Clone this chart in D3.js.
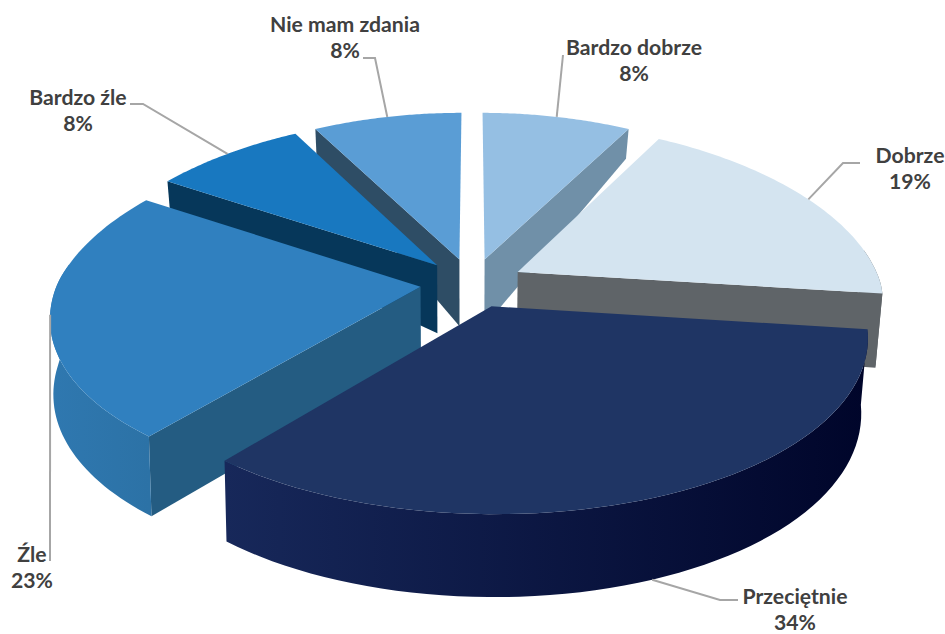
<!DOCTYPE html>
<html>
<head>
<meta charset="utf-8">
<script src="https://cdn.jsdelivr.net/npm/d3@7"></script>
<style>
  html, body { margin: 0; background: #fff; }
  text { font-family: Lato, "Open Sans", sans-serif; font-weight: 700; font-size: 21.2px; fill: #404040; }
</style>
</head>
<body>
<script>
// Chart values, clockwise from twelve o'clock
const categories = ["Bardzo dobrze", "Dobrze", "Przeciętnie", "Źle", "Bardzo źle", "Nie mam zdania"];
const shares = [8, 19, 34, 23, 8, 8];

// Slice colours
const topColours = ["#95bfe3", "#d4e4f0", "#1f3564", "#3080bf", "#1878c0", "#5a9dd5"];
const wallColours = ["#7090a8", "#5f6468", "#14264f", "#245c82", "#06375a", "#2e4d65"];
const rimLeft = ["#7090a8", "#5f6468", "#17285a", "#2f78b0", "#06375a", "#2e4d65"];
const rimRight = ["#7090a8", "#5f6468", "#00052a", "#2c72a6", "#06375a", "#2e4d65"];

// Back slices get painted first
const paintOrder = [5, 0, 1, 4, 3, 2];

// Label centre and elbow of the leader line
const labelLayout = [
  { x: 634, y: 55, elbow: [[563, 55]] },
  { x: 910, y: 163, elbow: [[860, 163], [843, 163]] },
  { x: 795, y: 604, elbow: [[738, 600], [720, 600]], onBase: true },
  { x: 32, y: 562, elbow: [[50, 561]] },
  { x: 78, y: 105, elbow: [[130, 104], [143, 104]] },
  { x: 345, y: 32, elbow: [[363, 58], [375, 58]] },
];

const width = 945, height = 634;
const cx = 472, cy = 283, rx = 363, ry = 172.6;
const explode = 0.143, perspective = 0.136;

const svg = d3.select("body").append("svg")
  .attr("width", width)
  .attr("height", height)
  .style("display", "block");
const defs = svg.append("defs");

// Wall height grows strongly toward the viewer
const wallHeight = d3.scaleLinear()
  .domain([120, 180, 257, 290, 515])
  .range([30, 28, 66, 74, 83])
  .clamp(true);

// The far side of the pie narrows a bit more than it flattens
const narrowing = d3.scaleLinear().domain([-1, 0, 1]).range([1.025, 1, 0.95]);

const slices = d3.pie().sort(null).value((d) => d)(shares);

// Flat pie coordinates to the picture
const project = (X, Z) => {
  const s = 1 / (1 + perspective * Z);
  return [cx + rx * X * s * narrowing(Z), cy - ry * Z * s];
};
const base = ([x, y]) => [cx + (x - cx) * (x < cx ? 0.992 : 0.983), y + wallHeight(y)];

const rimPoint = (slice, angle) => {
  const mid = (slice.startAngle + slice.endAngle) / 2;
  return project(
    Math.sin(angle) + explode * Math.sin(mid),
    Math.cos(angle) + explode * Math.cos(mid)
  );
};
const apexPoint = (slice) => {
  const mid = (slice.startAngle + slice.endAngle) / 2;
  return project(explode * Math.sin(mid), explode * Math.cos(mid));
};

const line = d3.line();
const closed = (pts) => line(pts) + "Z";

paintOrder.forEach((i) => {
  const slice = slices[i];
  const g = svg.append("g");
  const angles = d3.range(0, 61).map((k) => slice.startAngle + ((slice.endAngle - slice.startAngle) * k) / 60);
  const rim = angles.map((a) => rimPoint(slice, a));
  const apex = apexPoint(slice);
  const first = rim[0], last = rim[rim.length - 1];

  // Radial walls, only the ones that face the viewer
  const walls = [];
  if (slice.endAngle < Math.PI) walls.push(last);
  if (slice.startAngle > Math.PI) walls.push(first);
  walls.forEach((p) => {
    g.append("path")
      .attr("d", closed([p, apex, base(apex), base(p)]))
      .attr("fill", wallColours[i]);
  });

  // Outer wall, front part of the rim only
  const frontRim = rim.filter((p, k) => Math.cos(angles[k]) < 0.15);
  if (frontRim.length > 1) {
    const gradId = "rim" + i;
    const xs = d3.extent(frontRim, (p) => p[0]);
    const grad = defs.append("linearGradient")
      .attr("id", gradId)
      .attr("gradientUnits", "userSpaceOnUse")
      .attr("x1", xs[0]).attr("x2", xs[1])
      .attr("y1", 0).attr("y2", 0);
    grad.append("stop").attr("offset", 0).attr("stop-color", rimLeft[i]);
    grad.append("stop").attr("offset", 1).attr("stop-color", rimRight[i]);
    g.append("path")
      .attr("d", closed(frontRim.concat(frontRim.map(base).reverse())))
      .attr("fill", `url(#${gradId})`);
  }

  // Top face
  g.append("path")
    .attr("d", closed([apex].concat(rim)))
    .attr("fill", topColours[i]);
});

// Leader lines and labels
slices.forEach((slice, i) => {
  const layout = labelLayout[i];
  const mid = (slice.startAngle + slice.endAngle) / 2;
  const rimEnd = rimPoint(slice, mid);
  const end = layout.onBase ? base(rimEnd) : rimEnd;
  svg.append("path")
    .attr("d", line(layout.elbow.concat([end])))
    .attr("fill", "none")
    .attr("stroke", "#a6a6a6")
    .attr("stroke-width", 2);

  const label = svg.append("text").attr("text-anchor", "middle");
  label.append("tspan").attr("x", layout.x).attr("y", layout.y).text(categories[i]);
  label.append("tspan").attr("x", layout.x).attr("y", layout.y + 26).text(shares[i] + "%");
});
</script>
</body>
</html>
